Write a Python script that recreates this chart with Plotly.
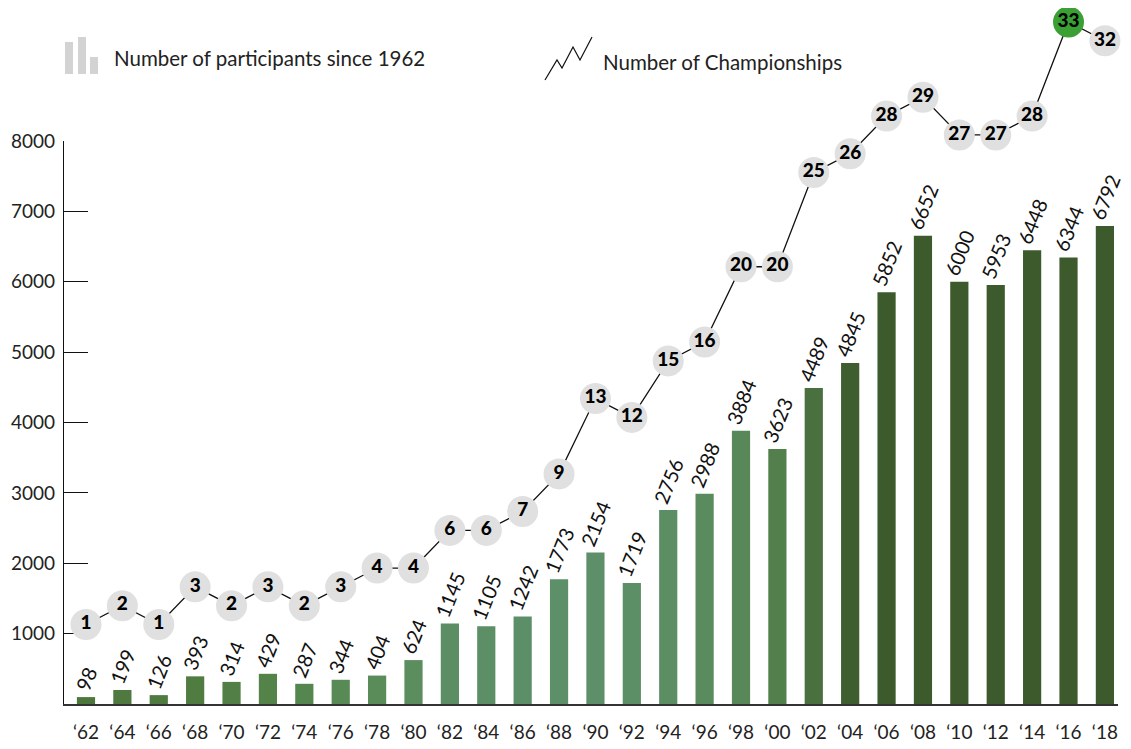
import plotly.graph_objects as go

years = ["\u201862", "\u201864", "\u201866", "\u201868", "\u201870", "\u201872", "\u201874", "\u201876",
         "\u201878", "\u201880", "\u201882", "\u201884", "\u201886", "\u201888", "\u201890", "\u201892",
         "\u201894", "\u201896", "\u201898", "\u201800", "\u201802", "\u201804", "\u201806", "\u201808",
         "\u201810", "\u201812", "\u201814", "\u201816", "\u201818"]
participants = [98, 199, 126, 393, 314, 429, 287, 344, 404, 624, 1145, 1105, 1242, 1773, 2154, 1719,
                2756, 2988, 3884, 3623, 4489, 4845, 5852, 6652, 6000, 5953, 6448, 6344, 6792]
championships = [1, 2, 1, 3, 2, 3, 2, 3, 4, 4, 6, 6, 7, 9, 13, 12, 15, 16, 20, 20, 25, 26, 28, 29,
                 27, 27, 28, 33, 32]
bar_colors = ["#4e773d", "#4f793f", "#4f7a40", "#507b41", "#527f45", "#548349", "#56864f", "#588a55",
              "#5a8c5a", "#5b8d5e", "#5b8e64", "#5c8f66", "#5c8f67", "#5d9068", "#5d9068", "#5c8f66",
              "#5c8e64", "#5a8b5e", "#588858", "#537f4c", "#4a7040", "#3f5e30", "#3d5a2c", "#3d5a2c",
              "#3d5a2c", "#3d5a2c", "#3d5a2c", "#3d5a2c", "#3d5a2c"]
circle_colors = ["#e0e0e0"] * len(championships)
circle_colors[27] = "#3aa034"
yticks = [1000, 2000, 3000, 4000, 5000, 6000, 7000, 8000]

FONT = "Lato"
OFF = 8  # page body margin
W, H = 1131 - OFF, 749 - OFF
# plot area in page pixels
PL, PR, PT, PB = 64, 1118, 8, 704
L, R, T, B = PL - OFF, W - (PR - OFF), PT - OFF, H - (PB - OFF)
PW, PH = W - L - R, H - T - B


def px(x):
    return (x - PL) / PW


def py(y):
    return (PB - y) / PH


fig = go.Figure()
fig.add_trace(go.Bar(
    x=list(range(len(years))), y=participants, width=0.5,
    marker=dict(color=bar_colors, line=dict(width=0)),
    text=[str(v) for v in participants], textposition="outside", textangle=-68,
    constraintext="none",
    textfont=dict(family=FONT, size=20, color="#111111"), cliponaxis=False,
    xaxis="x", yaxis="y", hoverinfo="skip",
))
fig.add_trace(go.Scatter(
    x=list(range(len(years))), y=championships, mode="lines+markers+text",
    line=dict(color="#111111", width=1.3),
    marker=dict(size=31, color=circle_colors, line=dict(width=0)),
    text=[str(v) for v in championships], textposition="middle center",
    textfont=dict(family=FONT, size=19, color="#000000", weight=900),
    cliponaxis=False, xaxis="x", yaxis="y2", hoverinfo="skip",
))

y_top = 141
fig.update_layout(
    width=W, height=H, margin=dict(l=L, r=R, t=T, b=B, autoexpand=False),
    paper_bgcolor="white", plot_bgcolor="rgba(0,0,0,0)", showlegend=False,
    xaxis=dict(
        domain=[0, 1], range=[-0.604, 28.36], tickmode="array",
        tickvals=list(range(len(years))), ticktext=years, showgrid=False, zeroline=False,
        showline=True, linecolor="#333333", linewidth=2, ticks="",
        tickfont=dict(family=FONT, size=19, color="#222222"), ticklabelstandoff=10,
        anchor="y", automargin=False,
    ),
    yaxis=dict(
        domain=[0, py(y_top)], range=[0, 8000], tickvals=yticks,
        ticktext=[str(v) for v in yticks], showgrid=False, zeroline=False,
        showline=True, linecolor="#111111", linewidth=1.3,
        ticks="inside", ticklen=24, tickwidth=1.3, tickcolor="#111111",
        tickfont=dict(family=FONT, size=19, color="#222222"), ticklabelstandoff=4,
        anchor="x", automargin=False,
    ),
    yaxis2=dict(
        domain=[0, 1], range=[-3.22, 33.74], visible=False, anchor="x",
        showgrid=False, zeroline=False, automargin=False,
    ),
)

# Legend: bar icon
for (x0, x1, ytop) in [(65, 73, 42), (78, 86, 37), (90, 98, 57)]:
    fig.add_shape(type="rect", xref="paper", yref="paper",
                  x0=px(x0), x1=px(x1), y0=py(74), y1=py(ytop),
                  fillcolor="#d3d3d3", line=dict(width=0), layer="above")
fig.add_annotation(xref="paper", yref="paper", x=px(112), y=py(58), xanchor="left", yanchor="middle",
                   text="Number of participants since 1962", showarrow=False,
                   font=dict(family=FONT, size=20.5, color="#222222"))
# Legend: zigzag icon
pts = [(545, 80), (557, 60), (562, 68), (573, 47), (580, 60), (592, 37)]
path = "M " + " L ".join(f"{px(a)},{py(b)}" for a, b in pts)
fig.add_shape(type="path", xref="paper", yref="paper", path=path,
              line=dict(color="#111111", width=1.2), layer="above")
fig.add_annotation(xref="paper", yref="paper", x=px(601), y=py(62), xanchor="left", yanchor="middle",
                   text="Number of Championships", showarrow=False,
                   font=dict(family=FONT, size=20.5, color="#222222"))

fig.write_html("out.html")
